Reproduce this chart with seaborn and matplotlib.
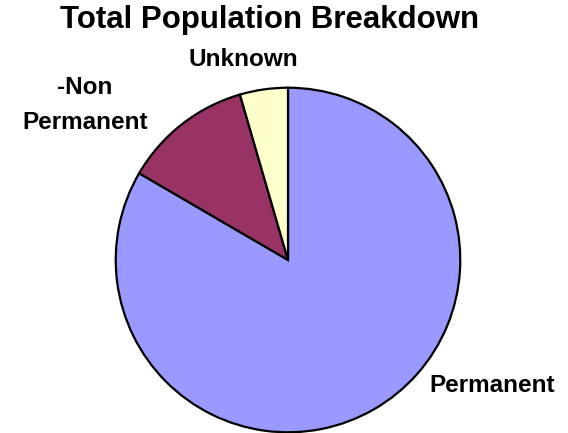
import matplotlib
matplotlib.use("Agg")
import matplotlib.pyplot as plt
import seaborn as sns

# ----------------------------
# Data
# ----------------------------
categories = ["Permanent", "-Non\nPermanent", "Unknown"]
shares = [83.4, 12.1, 4.5]
colors = ["#9999FF", "#993366", "#FFFFCC"]

# label positions in figure pixels (x from left, y from top)
label_px = [(492, 386), (85, 105), (243, 60)]

sns.set_theme(style="white")
plt.rcParams["font.family"] = ["Liberation Sans", "DejaVu Sans"]

W, H = 568, 433
fig = plt.figure(figsize=(W / 100, H / 100), dpi=100)
fig.patch.set_facecolor("white")

# pie axes: centre (288, 260), radius 174 px
cx, cy, r = 288, 260, 174
ax = fig.add_axes([(cx - r) / W, (H - cy - r) / H, 2 * r / W, 2 * r / H])
ax.pie(
    shares,
    colors=colors,
    startangle=90,
    counterclock=False,
    radius=1,
    wedgeprops=dict(edgecolor="black", linewidth=1.6),
)
ax.set_xlim(-1.01, 1.01)
ax.set_ylim(-1.01, 1.01)
ax.set_aspect("equal")
ax.axis("off")

for lab, (x, y) in zip(categories, label_px):
    fig.text(x / W, 1 - y / H, lab, ha="center", va="center", color="black",
             fontsize=17.5, fontweight="bold", linespacing=1.68)

fig.text(270 / W, 1 - 20 / H, "Total Population Breakdown", ha="center", va="center",
         color="black", fontsize=22.5, fontweight="bold")

fig.savefig("out.png", dpi=100)
